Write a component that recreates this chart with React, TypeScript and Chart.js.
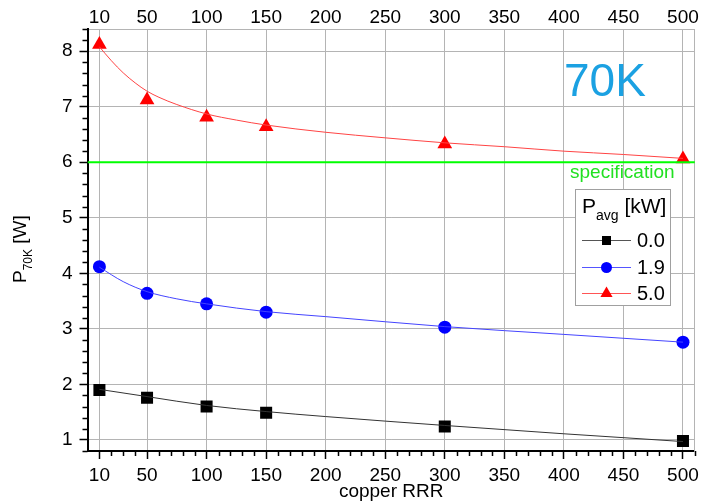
import React, { useEffect, useRef } from 'react';
import { Chart, registerables } from 'chart.js';

Chart.register(...registerables);

// ---- data ----
const rrr = [10, 50, 100, 150, 300, 500];
const p00 = [1.9, 1.76, 1.6, 1.49, 1.24, 0.98];
const p19 = [4.12, 3.64, 3.45, 3.3, 3.03, 2.76];
const p50 = [8.12, 7.12, 6.81, 6.64, 6.33, 6.06];

// fitted curves
const fitX00 = [10, 50, 100, 150, 200, 300, 400, 500];
const fitY00 = [1.91, 1.78, 1.62, 1.51, 1.42, 1.26, 1.11, 0.97];
const fitX19 = [10, 30, 50, 75, 100, 150, 200, 300, 400, 500];
const fitY19 = [4.11, 3.85, 3.67, 3.54, 3.45, 3.31, 3.22, 3.04, 2.9, 2.76];
const fitX50 = [10, 20, 30, 40, 50, 60, 75, 100, 125, 150, 200, 250, 300, 350, 400, 450, 500];
const fitY50 = [8.08, 7.83, 7.61, 7.43, 7.28, 7.17, 7.04, 6.87, 6.76, 6.67, 6.54, 6.44, 6.35, 6.28, 6.2, 6.14, 6.07];

const specX = [0, 510];
const specY = [6, 6];

const xTickValues = [10, 50, 100, 150, 200, 250, 300, 350, 400, 450, 500];
const yTickValues = [1, 2, 3, 4, 5, 6, 7, 8];
const legendLabels = ['0.0', '1.9', '5.0'];
const legendTitle = ['P', 'avg', ' [kW]'];
const yTitle = ['P', '70K', ' [W]'];
const xTitle = 'copper RRR';
const tempLabel = '70K';
const specLabel = 'specification';

const FONT = "'Liberation Sans', Arial, sans-serif";

const pts = (xs: number[], ys: number[]) => xs.map((x, i) => ({ x, y: ys[i] }));

const extrasPlugin = {
  id: 'extras',
  afterDraw(chart: any) {
    const ctx = chart.ctx as CanvasRenderingContext2D;
    const xs = chart.scales.x;
    const ys = chart.scales.y;
    const area = chart.chartArea;
    ctx.save();
    // minor ticks
    ctx.strokeStyle = '#000';
    ctx.lineWidth = 1.5;
    ctx.beginPath();
    for (let v = 20; v <= 510; v += 10) {
      if (xTickValues.includes(v)) continue;
      const px = Math.round(xs.getPixelForValue(v)) + 0.5;
      ctx.moveTo(px, area.bottom);
      ctx.lineTo(px, area.bottom + 5);
    }
    for (let k = 4; k <= 42; k++) {
      const v = k / 5;
      if (k % 5 === 0) continue;
      const py = Math.round(ys.getPixelForValue(v)) + 0.5;
      ctx.moveTo(area.left, py);
      ctx.lineTo(area.left - 5, py);
    }
    ctx.stroke();

    // 70K label
    ctx.fillStyle = '#1ba1e2';
    ctx.font = `46px ${FONT}`;
    ctx.textAlign = 'left';
    ctx.textBaseline = 'alphabetic';
    ctx.fillText(tempLabel, 564, 96);

    // specification label
    ctx.fillStyle = '#22e022';
    ctx.font = `19px ${FONT}`;
    ctx.fillText(specLabel, 570, 178);

    // y title (rotated, with subscript)
    ctx.save();
    ctx.translate(26, 283);
    ctx.rotate(-Math.PI / 2);
    ctx.fillStyle = '#000';
    ctx.font = `19px ${FONT}`;
    ctx.fillText(yTitle[0], 0, 0);
    let w = ctx.measureText(yTitle[0]).width;
    ctx.font = `12px ${FONT}`;
    ctx.fillText(yTitle[1], w, 6);
    w += ctx.measureText(yTitle[1]).width;
    ctx.font = `19px ${FONT}`;
    ctx.fillText(yTitle[2], w, 0);
    ctx.restore();

    // legend box
    const lx = 575.5, ly = 189.5, lw = 95, lh = 116;
    ctx.fillStyle = '#fff';
    ctx.fillRect(lx, ly, lw, lh);
    ctx.strokeStyle = '#a0a0a0';
    ctx.lineWidth = 1;
    ctx.strokeRect(lx, ly, lw, lh);
    ctx.fillStyle = '#000';
    ctx.font = `21px ${FONT}`;
    ctx.fillText(legendTitle[0], 582, 213);
    let tw = ctx.measureText(legendTitle[0]).width;
    ctx.font = `14px ${FONT}`;
    ctx.fillText(legendTitle[1], 582 + tw, 220);
    tw += ctx.measureText(legendTitle[1]).width;
    ctx.font = `21px ${FONT}`;
    ctx.fillText(legendTitle[2], 582 + tw, 213);

    const colors = ['#000000', '#0000ff', '#ff0000'];
    const lineColors = ['#555555', '#5555ff', '#ff5555'];
    const rowY = [240, 267, 293];
    for (let i = 0; i < 3; i++) {
      const y = rowY[i];
      ctx.strokeStyle = lineColors[i];
      ctx.lineWidth = 1;
      ctx.beginPath();
      ctx.moveTo(582, y + 0.5);
      ctx.lineTo(631, y + 0.5);
      ctx.stroke();
      ctx.fillStyle = colors[i];
      const cx = 606.5;
      if (i === 0) {
        ctx.fillRect(cx - 4.5, y - 4, 9, 9);
      } else if (i === 1) {
        ctx.beginPath();
        ctx.arc(cx, y + 0.5, 5.5, 0, Math.PI * 2);
        ctx.fill();
      } else {
        const r = 7;
        ctx.beginPath();
        ctx.moveTo(cx, y + 0.5 - r);
        ctx.lineTo(cx + r * 0.866, y + 0.5 + r / 2);
        ctx.lineTo(cx - r * 0.866, y + 0.5 + r / 2);
        ctx.closePath();
        ctx.fill();
      }
      ctx.fillStyle = '#000';
      ctx.font = `20px ${FONT}`;
      ctx.fillText(legendLabels[i], 637, y + 7);
    }
    ctx.restore();
  },
};

export default function App() {
  const ref = useRef<HTMLCanvasElement | null>(null);
  useEffect(() => {
    document.body.style.margin = '0';
    const canvas = ref.current!;
    const tickFont = { family: FONT, size: 19 };
    const setXTicks = (s: any) => {
      s.ticks = xTickValues.map((v) => ({ value: v }));
    };
    const setYTicks = (s: any) => {
      s.ticks = yTickValues.map((v) => ({ value: v }));
    };
    const chart = new Chart(canvas, {
      type: 'line',
      data: {
        datasets: [
          {
            data: pts(specX, specY),
            borderColor: '#00ff00',
            borderWidth: 2,
            pointRadius: 0,
          },
          {
            data: pts(fitX00, fitY00),
            borderColor: '#333333',
            borderWidth: 1,
            pointRadius: 0,
            cubicInterpolationMode: 'monotone',
          },
          {
            data: pts(fitX19, fitY19),
            borderColor: '#4444ff',
            borderWidth: 1,
            pointRadius: 0,
            cubicInterpolationMode: 'monotone',
          },
          {
            data: pts(fitX50, fitY50),
            borderColor: '#ff4444',
            borderWidth: 1,
            pointRadius: 0,
            cubicInterpolationMode: 'monotone',
          },
          {
            data: pts(rrr, p00),
            showLine: false,
            pointStyle: 'rect',
            pointRadius: 8.5,
            pointBackgroundColor: '#000000',
            pointBorderWidth: 0,
          },
          {
            data: pts(rrr, p19),
            showLine: false,
            pointStyle: 'circle',
            pointRadius: 6.5,
            pointBackgroundColor: '#0000ff',
            pointBorderWidth: 0,
          },
          {
            data: pts(rrr, p50),
            showLine: false,
            pointStyle: 'triangle',
            pointRadius: 8.5,
            pointBackgroundColor: '#ff0000',
            pointBorderWidth: 0,
          },
        ] as any,
      },
      options: {
        animation: false,
        responsive: false,
        maintainAspectRatio: false,
        layout: { padding: 0 },
        plugins: { legend: { display: false }, tooltip: { enabled: false } },
        scales: {
          x: {
            type: 'linear',
            position: 'bottom',
            min: 0,
            max: 510,
            afterBuildTicks: setXTicks,
            afterFit: (s: any) => {
              s.height = 52;
            },
            grid: { color: '#b4b4b4', lineWidth: 1, tickColor: '#000', tickLength: 8, tickWidth: 1.5 },
            border: { color: '#000', width: 2 },
            ticks: { font: tickFont, color: '#000', padding: 5, maxRotation: 0, autoSkip: false },
            title: {
              display: true,
              text: xTitle,
              font: tickFont,
              color: '#000',
              padding: { top: 0, bottom: 0 },
            },
          },
          x2: {
            type: 'linear',
            position: 'top',
            min: 0,
            max: 510,
            afterBuildTicks: setXTicks,
            afterFit: (s: any) => {
              s.height = 29;
            },
            grid: { drawOnChartArea: false, drawTicks: false },
            border: { color: '#b4b4b4', width: 1 },
            ticks: { font: tickFont, color: '#000', padding: 0, maxRotation: 0, autoSkip: false },
          },
          y: {
            type: 'linear',
            position: 'left',
            min: 0.8,
            max: 8.4,
            afterBuildTicks: setYTicks,
            afterFit: (s: any) => {
              s.width = 87.5;
            },
            grid: { color: '#b4b4b4', lineWidth: 1, tickColor: '#000', tickLength: 8, tickWidth: 1.5 },
            border: { color: '#000', width: 2 },
            ticks: { font: tickFont, color: '#000', padding: 7 },
          },
          y2: {
            type: 'linear',
            position: 'right',
            min: 0.8,
            max: 8.4,
            afterFit: (s: any) => {
              s.width = 9;
            },
            grid: { drawOnChartArea: false, drawTicks: false },
            border: { color: '#b4b4b4', width: 1 },
            ticks: { display: false },
          },
        },
      } as any,
      plugins: [extrasPlugin],
    });
    return () => chart.destroy();
  }, []);
  return (
    <div style={{ width: 704, height: 503 }}>
      <canvas ref={ref} width={704} height={503} style={{ width: 704, height: 503, display: 'block' }} />
    </div>
  );
}
